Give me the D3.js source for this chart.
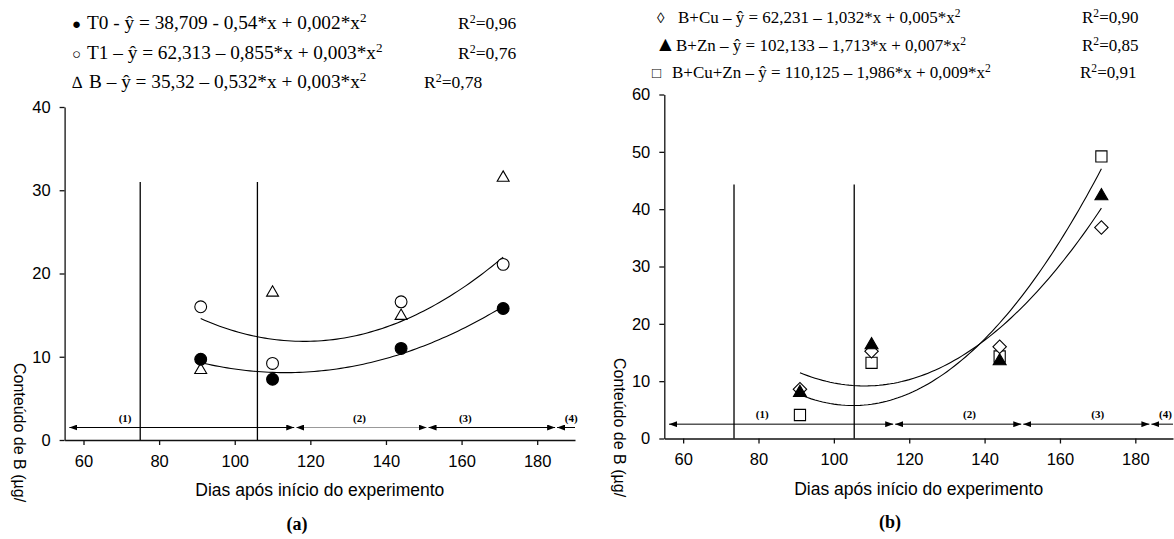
<!DOCTYPE html>
<html>
<head>
<meta charset="utf-8">
<script src="https://cdn.jsdelivr.net/npm/d3@7"></script>
<style>
  body { margin: 0; background: #fff; }
  text { fill: #000; }
</style>
</head>
<body>
<svg id="chart" width="1174" height="539"></svg>
<script>
// dias de coleta
const days = [91, 110, 144, 171];
const xTicks = [60, 80, 100, 120, 140, 160, 180];

// painel (a)
const t0 = [9.7, 7.3, 11.0, 15.8];
const t1 = [16.0, 9.2, 16.6, 21.1];
const deltaB = [8.4, 17.7, 14.9, 31.5];
const yTicksA = [0, 10, 20, 30, 40];

// painel (b)
const bCu = [8.6, 15.2, 16.0, 36.8];
const bZn = [8.0, 16.3, 13.5, 42.3];
const bCuZn = [4.1, 13.2, 14.3, 49.2];
const yTicksB = [0, 10, 20, 30, 40, 50, 60];

// fases do experimento
const phaseLabels = ["(1)", "(2)", "(3)", "(4)"];
const phaseEdgesA = [56, 116, 151, 185, 190];
const phaseEdgesB = [56, 116, 150, 184, 190];
const phaseLabelXA = [71, 133, 161, 189];
const phaseLabelXB = [81, 136, 170, 188];
const markLinesA = [75, 106];
const markLinesB = [73.5, 105.4];

// legendas
const legendSymA = ["\u25CF", "\u25CB", "\u2206"];
const legendTextA = [
  "T0 - \u0177 = 38,709 - 0,54*x + 0,002*x^2",
  "T1 \u2013 \u0177 = 62,313 \u2013 0,855*x + 0,003*x^2",
  "B \u2013 \u0177 = 35,32 \u2013 0,532*x + 0,003*x^2"
];
const r2A = ["0,96", "0,76", "0,78"];
const legendSymB = ["\u25CA", "\u25B2", "\u25A1"];
const legendTextB = [
  "B+Cu \u2013 \u0177 = 62,231 \u2013 1,032*x + 0,005*x^2",
  "B+Zn \u2013 \u0177 = 102,133 \u2013 1,713*x + 0,007*x^2",
  "B+Cu+Zn \u2013 \u0177 = 110,125 \u2013 1,986*x + 0,009*x^2"
];
const r2B = ["0,90", "0,85", "0,91"];

const svg = d3.select("#chart");
const defs = svg.append("defs");
defs.append("marker")
  .attr("id", "head")
  .attr("viewBox", "0 0 8 6")
  .attr("refX", 8).attr("refY", 3)
  .attr("markerWidth", 8).attr("markerHeight", 6)
  .attr("markerUnits", "userSpaceOnUse")
  .attr("orient", "auto-start-reverse")
  .append("path").attr("d", "M0,0L8,3L0,6Z").attr("fill", "#000");

// ajuste quadratico por minimos quadrados
function quadFit(xs, ys) {
  const m = [[0, 0, 0, 0], [0, 0, 0, 0], [0, 0, 0, 0]];
  xs.forEach((x, i) => {
    const p = [1, x, x * x];
    for (let r = 0; r < 3; r++) {
      for (let c = 0; c < 3; c++) m[r][c] += p[r] * p[c];
      m[r][3] += p[r] * ys[i];
    }
  });
  for (let k = 0; k < 3; k++) {
    for (let r = k + 1; r < 3; r++) {
      const f = m[r][k] / m[k][k];
      for (let c = k; c < 4; c++) m[r][c] -= f * m[k][c];
    }
  }
  const b = [0, 0, 0];
  for (let r = 2; r >= 0; r--) {
    let s = m[r][3];
    for (let c = r + 1; c < 3; c++) s -= m[r][c] * b[c];
    b[r] = s / m[r][r];
  }
  return x => b[0] + b[1] * x + b[2] * x * x;
}

function panel(cfg) {
  const g = svg.append("g");
  const x = d3.scaleLinear().domain([55, 190]).range(cfg.xRange);
  const y = d3.scaleLinear().domain([0, cfg.yMax]).range(cfg.yRange);

  // eixos
  const xa = g.append("g")
    .attr("transform", `translate(0,${cfg.yRange[0]})`)
    .call(d3.axisBottom(x).tickValues(xTicks).tickSize(5).tickSizeOuter(0).tickPadding(10));
  const ya = g.append("g")
    .attr("transform", `translate(${cfg.xRange[0]},0)`)
    .call(d3.axisLeft(y).tickValues(cfg.yTicks).tickSize(5).tickSizeOuter(0).tickPadding(9));
  [xa, ya].forEach(a => {
    a.selectAll("text").attr("font-family", "Liberation Sans, Arial").attr("font-size", 16.5).attr("fill", "#000");
    a.selectAll("line,path").attr("stroke", "#111").attr("stroke-width", 1.3);
  });

  g.append("text")
    .attr("x", (x(55) + x(190)) / 2 + cfg.titleShift).attr("y", cfg.yRange[0] + 56)
    .attr("text-anchor", "middle")
    .attr("font-family", "Liberation Sans, Arial").attr("font-size", 17.5)
    .text("Dias após início do experimento");

  g.append("text")
    .attr("transform", `translate(${cfg.yLabelX},${cfg.yLabelY}) rotate(90)`)
    .attr("font-family", "Liberation Sans, Arial").attr("font-size", 16)
    .text("Conteúdo de B (µg/");

  g.append("text")
    .attr("x", cfg.tagX).attr("y", cfg.tagY)
    .attr("text-anchor", "middle")
    .attr("font-family", "Liberation Serif, Times New Roman").attr("font-weight", "bold").attr("font-size", 18)
    .text(cfg.tag);

  // linhas verticais
  g.selectAll(".mark").data(cfg.markLines).join("line")
    .attr("x1", d => x(d)).attr("x2", d => x(d))
    .attr("y1", y(0)).attr("y2", y(cfg.markTop))
    .attr("stroke", "#000").attr("stroke-width", 1.3);

  // setas das fases
  const segs = d3.range(4).map(i => [cfg.edges[i], cfg.edges[i + 1]]);
  g.selectAll(".seg").data(segs).join("line")
    .attr("x1", d => x(d[0]) + 1).attr("x2", (d, i) => x(d[1]) - (i < 3 ? 1 : 0))
    .attr("y1", y(cfg.arrowY)).attr("y2", y(cfg.arrowY))
    .attr("stroke", (d, i) => i === cfg.graySeg ? "#999" : "#000")
    .attr("stroke-width", 1)
    .attr("marker-start", "url(#head)")
    .attr("marker-end", (d, i) => i < 3 ? "url(#head)" : null);
  g.selectAll(".plab").data(phaseLabels).join("text")
    .attr("x", (d, i) => x(cfg.labelX[i])).attr("y", y(cfg.arrowY) - 6)
    .attr("text-anchor", "middle")
    .attr("font-family", "Liberation Serif, Times New Roman").attr("font-weight", "bold").attr("font-size", 11)
    .text(d => d);

  // curvas ajustadas
  const line = d3.line().x(d => x(d[0])).y(d => y(d[1]));
  cfg.fits.forEach(vals => {
    const f = quadFit(days, vals);
    const pts = d3.range(days[0], days[3] + 0.01, 1).map(d => [d, f(d)]);
    g.append("path").attr("d", line(pts))
      .attr("fill", "none").attr("stroke", "#000").attr("stroke-width", 1.1);
  });

  // pontos
  cfg.series.forEach(s => {
    g.selectAll(null).data(s.values).join("path")
      .attr("transform", (d, i) => `translate(${x(days[i])},${y(d)}) rotate(${s.rotate || 0})`)
      .attr("d", d3.symbol(s.type, s.size)())
      .attr("fill", s.fill).attr("stroke", "#000").attr("stroke-width", 1.1);
  });

  // legenda
  cfg.legend.text.forEach((t, i) => {
    const L = cfg.legend;
    g.append("text")
      .attr("x", L.symX[i]).attr("y", L.baseY[i])
      .attr("font-family", "Liberation Serif, DejaVu Serif").attr("font-size", L.symSize[i])
      .text(L.sym[i]);
    const [base, sup] = t.split("^");
    const tx = g.append("text")
      .attr("x", L.textX[i]).attr("y", L.baseY[i])
      .attr("font-family", "Liberation Serif, Times New Roman").attr("font-size", L.size);
    tx.append("tspan").text(base);
    tx.append("tspan").attr("dy", -L.size * 0.35).attr("font-size", L.size * 0.68).text(sup);
    const r = g.append("text")
      .attr("x", L.r2X[i]).attr("y", L.baseY[i])
      .attr("font-family", "Liberation Serif, Times New Roman").attr("font-size", L.r2Size);
    r.append("tspan").text("R");
    r.append("tspan").attr("dy", -L.r2Size * 0.35).attr("font-size", L.r2Size * 0.68).text("2");
    r.append("tspan").attr("dy", L.r2Size * 0.35).text("=" + L.r2[i]);
  });
}

panel({
  xRange: [64.6, 575], yRange: [440, 107], yMax: 40, yTicks: yTicksA,
  markLines: markLinesA, markTop: 31, edges: phaseEdgesA, labelX: phaseLabelXA,
  arrowY: 1.5, graySeg: 1,
  fits: [t1, t0],
  series: [
    { values: deltaB, type: d3.symbolTriangle, size: 62, fill: "#fff" },
    { values: t1, type: d3.symbolCircle, size: 110, fill: "#fff" },
    { values: t0, type: d3.symbolCircle, size: 110, fill: "#000" }
  ],
  titleShift: 0, yLabelX: 14, yLabelY: 363, tag: "(a)", tagX: 297, tagY: 530,
  legend: {
    sym: legendSymA, text: legendTextA, r2: r2A,
    symX: [72, 72, 72], symSize: [15, 15, 17], textX: [87, 87, 89],
    baseY: [29, 59, 88], size: 19.3, r2X: [458, 458, 424], r2Size: 17.5
  }
});

panel({
  xRange: [664.3, 1173], yRange: [438.5, 94.5], yMax: 60, yTicks: yTicksB,
  markLines: markLinesB, markTop: 44.3, edges: phaseEdgesB, labelX: phaseLabelXB,
  arrowY: 2.5, graySeg: -1,
  fits: [bZn, bCuZn],
  series: [
    { values: bCuZn, type: d3.symbolSquare, size: 125, fill: "#fff" },
    { values: bCu, type: d3.symbolSquare, size: 90, fill: "#fff", rotate: 45 },
    { values: bZn, type: d3.symbolTriangle, size: 72, fill: "#000" }
  ],
  titleShift: 0, yLabelX: 614, yLabelY: 358, tag: "(b)", tagX: 890, tagY: 528,
  legend: {
    sym: legendSymB, text: legendTextB, r2: r2B,
    symX: [657, 655, 652], symSize: [15, 21, 15], textX: [678, 676, 672],
    baseY: [23, 51, 78], size: 17, r2X: [1082, 1082, 1080], r2Size: 17
  }
});
</script>
</body>
</html>
